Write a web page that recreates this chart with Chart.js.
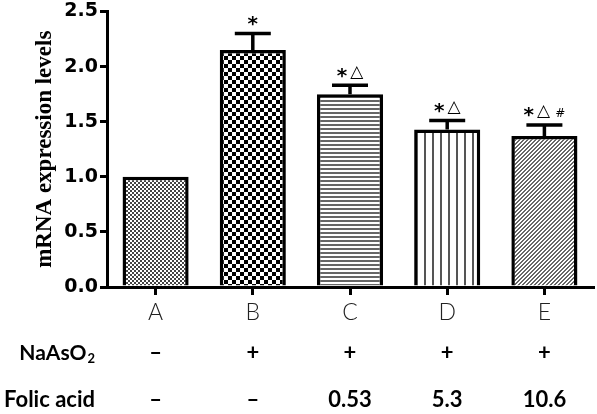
<!DOCTYPE html>
<html>
<head>
<meta charset="utf-8">
<script src="https://cdn.jsdelivr.net/npm/chart.js@4"></script>
<style>
  body { margin: 0; background: #fff; }
  #wrap { width: 597px; height: 414px; }
</style>
</head>
<body>
<div id="wrap"><canvas id="barChart"></canvas></div>
<script>
// values
const categories = ['A', 'B', 'C', 'D', 'E'];
const expression = [1.00, 2.15, 1.75, 1.43, 1.37];
const errors = [0, 0.15, 0.08, 0.08, 0.10];
const marks = ['', '*', '*△', '*△', '*△#'];
const naAsO2 = ['–', '+', '+', '+', '+'];
const folicAcid = ['–', '–', '0.53', '5.3', '10.6'];
const yTicks = [0, 0.5, 1.0, 1.5, 2.0, 2.5];

// small tiles used as bar fills
function makePattern(w, h, draw) {
  const c = document.createElement('canvas');
  c.width = w;
  c.height = h;
  const g = c.getContext('2d');
  g.fillStyle = '#fff';
  g.fillRect(0, 0, w, h);
  draw(g);
  return g.createPattern(c, 'repeat');
}

const fills = [
  // fine grey dither
  makePattern(4, 4, g => {
    g.fillStyle = '#444';
    g.fillRect(0, 0, 2, 2);
    g.fillRect(2, 2, 2, 2);
  }),
  // black checkerboard
  makePattern(8, 8, g => {
    g.fillStyle = '#000';
    g.fillRect(0, 0, 4, 4);
    g.fillRect(4, 4, 4, 4);
  }),
  // horizontal lines
  makePattern(1, 4, g => {
    g.fillStyle = '#666';
    g.fillRect(0, 0, 1, 2);
  }),
  // vertical lines
  makePattern(8, 1, g => {
    g.fillStyle = '#555';
    g.fillRect(0, 0, 2, 1);
  }),
  // diagonal hatching
  makePattern(4, 4, g => {
    g.fillStyle = '#666';
    for (let x = 0; x < 4; x++) {
      for (let y = 0; y < 4; y++) {
        if ((x + y) % 4 >= 2) g.fillRect(x, y, 1, 1);
      }
    }
  })
];

// error bars + significance marks
const errorBars = {
  id: 'errorBars',
  afterDatasetsDraw(chart) {
    const ctx = chart.ctx;
    const yScale = chart.scales.y;
    const meta = chart.getDatasetMeta(0);
    ctx.save();
    ctx.strokeStyle = '#000';
    ctx.lineWidth = 3.5;
    meta.data.forEach((bar, i) => {
      const top = yScale.getPixelForValue(expression[i] + errors[i]);
      if (errors[i]) {
        ctx.beginPath();
        ctx.moveTo(bar.x, bar.y);
        ctx.lineTo(bar.x, top);
        ctx.moveTo(bar.x - 18, top);
        ctx.lineTo(bar.x + 18, top);
        ctx.stroke();
      }
      if (!marks[i]) return;
      // lay out each symbol with its own font
      const parts = marks[i].split('').map(ch => {
        if (ch === '*') return { ch, font: 'bold 20px "DejaVu Sans"', dy: 4, gap: 3 };
        if (ch === '#') return { ch, font: '12px "DejaVu Sans"', dy: 2, gap: 0 };
        return { ch, font: '17px "DejaVu Sans"', dy: 0, gap: 5 };
      });
      let total = 0;
      parts.forEach(p => {
        ctx.font = p.font;
        p.w = ctx.measureText(p.ch).width;
        total += p.w + p.gap;
      });
      total -= parts[parts.length - 1].gap;
      let x = bar.x - total / 2;
      ctx.fillStyle = '#000';
      ctx.textBaseline = 'middle';
      ctx.textAlign = 'left';
      parts.forEach(p => {
        ctx.font = p.font;
        ctx.fillText(p.ch, x, top - 13 + p.dy);
        x += p.w + p.gap;
      });
    });
    ctx.restore();
  }
};

// treatment rows under the x axis
const treatmentRows = {
  id: 'treatmentRows',
  afterDraw(chart) {
    const ctx = chart.ctx;
    const xScale = chart.scales.x;
    ctx.save();
    ctx.fillStyle = '#000';
    ctx.textBaseline = 'middle';

    ctx.textAlign = 'right';
    ctx.font = 'bold 13px Lato';
    const subW = ctx.measureText('2').width;
    ctx.fillText('2', 95, 359);
    ctx.font = 'bold 21px Lato';
    ctx.fillText('NaAsO', 95 - subW - 1, 353);
    ctx.font = 'bold 22px Lato';
    ctx.fillText('Folic acid', 95, 400);

    ctx.textAlign = 'center';
    categories.forEach((c, i) => {
      const x = xScale.getPixelForValue(i);
      ctx.font = 'bold 22px Lato';
      ctx.fillText(naAsO2[i], x, 353);
      ctx.fillText(folicAcid[i], x, 400);
    });
    ctx.restore();
  }
};

const ctx = document.getElementById('barChart').getContext('2d');
const barChart = new Chart(ctx, {
  type: 'bar',
  data: {
    labels: categories,
    datasets: [{
      data: expression,
      backgroundColor: fills,
      borderColor: '#000',
      borderWidth: 3.5,
      borderSkipped: 'start',
      categoryPercentage: 1.0,
      barPercentage: 0.68
    }]
  },
  options: {
    responsive: true,
    maintainAspectRatio: false,
    animation: false,
    devicePixelRatio: 1,
    layout: { padding: { top: 0, right: 4, left: 0, bottom: 0 } },
    plugins: {
      legend: { display: false },
      tooltip: { enabled: false }
    },
    scales: {
      x: {
        grid: { offset: false, drawOnChartArea: false, tickLength: 8, lineWidth: 3, color: '#000' },
        border: { width: 3, color: '#000' },
        ticks: { color: '#222', font: { family: 'Lato', size: 23, weight: '300' }, padding: 4 },
        afterFit(scale) { scale.height = 127; }
      },
      y: {
        min: 0,
        max: 2.5,
        afterBuildTicks(scale) { scale.ticks = yTicks.map(v => ({ value: v })); },
        grid: { drawOnChartArea: false, tickLength: 7, lineWidth: 3, color: '#000' },
        border: { width: 3, color: '#000' },
        ticks: {
          color: '#000',
          padding: 2,
          font: { family: 'DejaVu Sans', size: 19, weight: 'bold', lineHeight: 1 },
          callback: v => v.toFixed(1)
        },
        title: {
          display: true,
          text: 'mRNA expression levels',
          color: '#000',
          font: { family: 'Liberation Serif', size: 23, weight: 'bold' },
          padding: { top: 31, bottom: 0 }
        },
        afterFit(scale) { scale.width = 107; }
      }
    }
  },
  plugins: [errorBars, treatmentRows]
});
</script>
</body>
</html>
